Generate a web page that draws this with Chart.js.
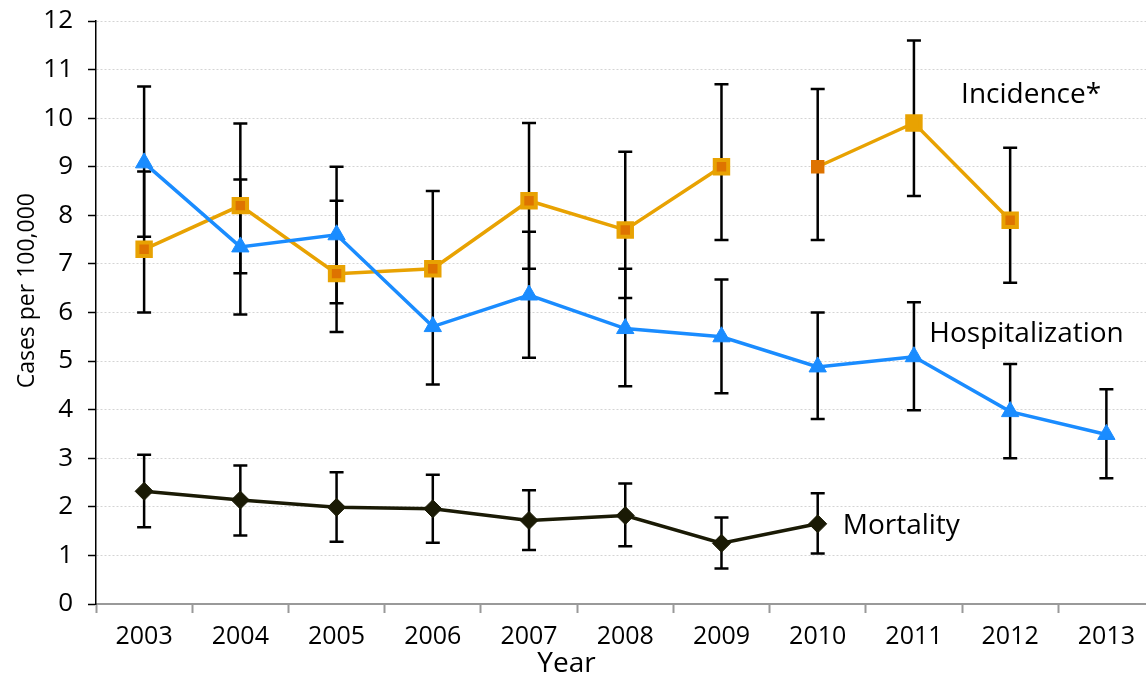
<!DOCTYPE html>
<html><head><meta charset="utf-8">
<script src="https://cdn.jsdelivr.net/npm/chart.js@4"></script>
<style>html,body{margin:0;padding:0;background:#fff;overflow:hidden}canvas{display:block}</style>
</head><body>
<canvas id="c" width="1168" height="678"></canvas>
<script>
// ---- data ----
const years = ['2003','2004','2005','2006','2007','2008','2009','2010','2011','2012','2013'];
const yTickValues = [0,1,2,3,4,5,6,7,8,9,10,11,12];

const incidence     = [7.3, 8.2, 6.8, 6.9, 8.3, 7.7, 9.0, 9.0, 9.9, 7.9, null];
const incidenceLow  = [6.0, 6.81, 5.6, 5.71, 6.9, 6.3, 7.49, 7.49, 8.4, 6.61, null];
const incidenceHigh = [8.9, 9.89, 8.3, 8.5, 9.9, 9.31, 10.7, 10.6, 11.6, 9.39, null];

const hospitalization     = [9.08, 7.35, 7.6, 5.71, 6.36, 5.67, 5.5, 4.88, 5.09, 3.96, 3.49];
const hospitalizationLow  = [7.56, 5.96, 6.19, 4.52, 5.07, 4.48, 4.34, 3.81, 3.99, 3.0, 2.59];
const hospitalizationHigh = [10.65, 8.74, 9.0, null, 7.66, 6.9, 6.68, 6.0, 6.21, 4.94, 4.42];

const mortality     = [2.32, 2.14, 1.99, 1.96, 1.72, 1.82, 1.25, 1.65, null, null, null];
const mortalityLow  = [1.58, 1.41, 1.28, 1.26, 1.11, 1.19, 0.73, 1.04, null, null, null];
const mortalityHigh = [3.07, 2.85, 2.71, 2.66, 2.34, 2.48, 1.78, 2.28, null, null, null];

const seriesNames = ['Incidence*', 'Hospitalization', 'Mortality'];
const yTitle = 'Cases per 100,000';
const xTitle = 'Year';

// ---- styles ----
const GOLD = '#E8A202', DORANGE = '#DE7300', BLUE = '#1A8CFF', DARK = '#1A1A05';
const FONT = '"Open Sans", "Noto Sans", sans-serif';

const errorSets = [
  {low: incidenceLow, high: incidenceHigh, mid: incidence, capLow: i => i !== 3, capHigh: () => true},
  {low: hospitalizationLow, high: hospitalizationHigh, mid: hospitalization, capLow: () => true, capHigh: () => true},
  {low: mortalityLow, high: mortalityHigh, mid: mortality, capLow: () => true, capHigh: () => true}
];

const errorBarPlugin = {
  id: 'errorBars',
  beforeDatasetsDraw(chart) {
    const {ctx, scales: {x, y}} = chart;
    ctx.save();
    ctx.strokeStyle = '#000';
    ctx.lineWidth = 2.5;
    const capHalf = 7;
    errorSets.forEach(s => {
      s.mid.forEach((m, i) => {
        if (m === null) return;
        const px = x.getPixelForValue(i);
        const lo = s.low[i] !== null ? s.low[i] : m;
        const hi = s.high[i] !== null ? s.high[i] : m;
        const pl = y.getPixelForValue(lo), ph = y.getPixelForValue(hi);
        ctx.beginPath();
        ctx.moveTo(px, pl); ctx.lineTo(px, ph);
        if (s.low[i] !== null && s.capLow(i)) { ctx.moveTo(px - capHalf, pl); ctx.lineTo(px + capHalf, pl); }
        if (s.high[i] !== null && s.capHigh(i)) { ctx.moveTo(px - capHalf, ph); ctx.lineTo(px + capHalf, ph); }
        ctx.stroke();
      });
    });
    ctx.restore();
  }
};

const textPlugin = {
  id: 'texts',
  afterDraw(chart) {
    const {ctx, scales: {x, y}, chartArea} = chart;
    ctx.save();
    ctx.fillStyle = '#000';
    ctx.textBaseline = 'middle';
    ctx.textAlign = 'left';
    ctx.font = '28px ' + FONT;
    ctx.fillText(seriesNames[0], x.getPixelForValue(8.49), y.getPixelForValue(10.48));
    ctx.fillText(seriesNames[1], x.getPixelForValue(8.16), y.getPixelForValue(5.55));
    ctx.fillText(seriesNames[2], x.getPixelForValue(7.26), y.getPixelForValue(1.6));
    // axis titles
    ctx.textAlign = 'center';
    ctx.font = '28px ' + FONT;
    ctx.fillText(xTitle, x.getPixelForValue(4.39), 664);
    ctx.save();
    ctx.translate(chartArea.left - 69, y.getPixelForValue(6.45));
    ctx.rotate(-Math.PI / 2);
    ctx.font = '23px ' + FONT;
    ctx.fillText(yTitle, 0, 0);
    ctx.restore();
    ctx.restore();
  }
};

new Chart(document.getElementById('c'), {
  type: 'line',
  data: {
    labels: years,
    datasets: [
      {
        label: seriesNames[0], data: incidence,
        borderColor: GOLD, borderWidth: 3.5,
        pointStyle: 'rect', pointRadius: 9.5,
        pointBackgroundColor: [DORANGE, DORANGE, DORANGE, DORANGE, DORANGE, DORANGE, DORANGE, DORANGE, GOLD, DORANGE, DORANGE],
        pointBorderColor: GOLD,
        pointBorderWidth: [4, 4, 4, 4, 4, 4, 4, 0, 4, 4, 4],
        segment: { borderColor: c => c.p0DataIndex === 6 ? 'rgba(0,0,0,0)' : undefined },
        tension: 0, order: 2
      },
      {
        label: seriesNames[1], data: hospitalization,
        borderColor: BLUE, borderWidth: 3.5,
        pointStyle: 'triangle', pointRadius: 10,
        pointBackgroundColor: BLUE, pointBorderColor: BLUE, pointBorderWidth: 1,
        tension: 0, order: 1
      },
      {
        label: seriesNames[2], data: mortality,
        borderColor: DARK, borderWidth: 3.5,
        pointStyle: 'rectRot', pointRadius: 9,
        pointBackgroundColor: DARK, pointBorderColor: DARK, pointBorderWidth: 1,
        tension: 0, order: 3
      }
    ]
  },
  options: {
    responsive: false,
    animation: false,
    devicePixelRatio: 1,
    events: [],
    layout: { padding: { top: 21, right: 6, left: 0, bottom: 0 } },
    plugins: { legend: { display: false }, tooltip: { enabled: false } },
    scales: {
      x: {
        offset: true,
        grid: { display: true, drawOnChartArea: false, offset: true, tickLength: 9, tickColor: '#999', tickWidth: 2 },
        border: { display: true, color: '#999', width: 2 },
        ticks: { color: '#000', font: { family: FONT, size: 25 }, padding: 9, maxRotation: 0, autoSkip: false },
        afterFit(scale) { scale.height = 74; }
      },
      y: {
        min: 0, max: 12,
        afterBuildTicks(scale) { scale.ticks = yTickValues.map(v => ({value: v})); },
        grid: { color: '#d4d4d4', lineWidth: 1, tickColor: '#000', tickLength: 8, tickWidth: 1.5, tickBorderDash: [] },
        border: { display: true, color: '#000', width: 1.5, dash: [2, 2] },
        ticks: { color: '#000', font: { family: FONT, size: 26 }, padding: 15 },
        afterFit(scale) { scale.width = 96; scale.paddingTop = 0; scale.paddingBottom = 0; }
      }
    }
  },
  plugins: [errorBarPlugin, textPlugin]
});
</script>
</body></html>
